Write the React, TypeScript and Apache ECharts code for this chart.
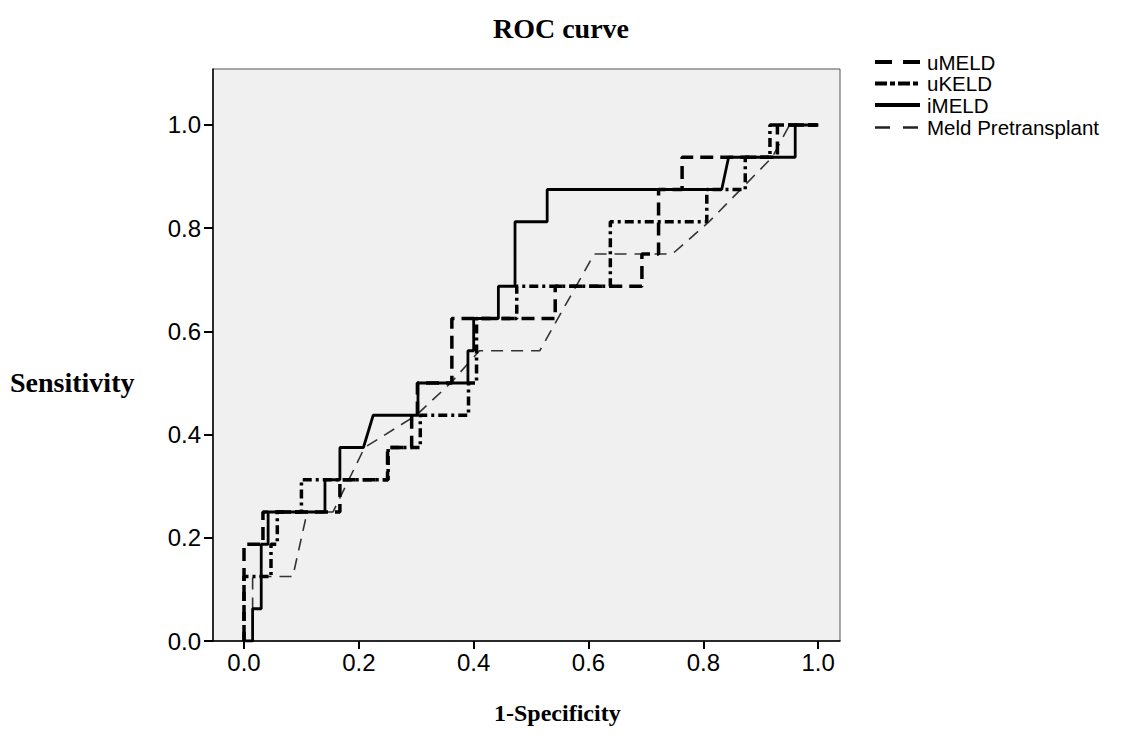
import React, { useEffect, useRef } from "react";
import * as echarts from "echarts";

// ---- Data (1 - specificity, sensitivity) ----
const tickValues = [0, 0.2, 0.4, 0.6, 0.8, 1.0];
const seriesNames = ["uMELD", "uKELD", "iMELD", "Meld Pretransplant"];

const uMELD_fpr = [0, 0, 0.033, 0.033, 0.167, 0.167, 0.25, 0.25, 0.292, 0.292, 0.302, 0.302, 0.362, 0.362, 0.542, 0.542, 0.693, 0.693, 0.722, 0.722, 0.763, 0.763, 0.929, 0.929, 1];
const uMELD_tpr = [0, 0.1875, 0.1875, 0.25, 0.25, 0.3125, 0.3125, 0.375, 0.375, 0.4375, 0.4375, 0.5, 0.5, 0.625, 0.625, 0.6875, 0.6875, 0.75, 0.75, 0.875, 0.875, 0.9375, 0.9375, 1, 1];

const uKELD_fpr = [0, 0, 0.047, 0.047, 0.058, 0.058, 0.1, 0.1, 0.251, 0.251, 0.307, 0.307, 0.391, 0.391, 0.405, 0.405, 0.475, 0.475, 0.638, 0.638, 0.806, 0.806, 0.873, 0.873, 0.916, 0.916, 1];
const uKELD_tpr = [0, 0.125, 0.125, 0.1875, 0.1875, 0.25, 0.25, 0.3125, 0.3125, 0.375, 0.375, 0.4375, 0.4375, 0.5, 0.5, 0.625, 0.625, 0.6875, 0.6875, 0.8125, 0.8125, 0.875, 0.875, 0.9375, 0.9375, 1, 1];

const iMELD_fpr = [0, 0.015, 0.015, 0.03, 0.03, 0.042, 0.042, 0.141, 0.141, 0.167, 0.167, 0.208, 0.225, 0.303, 0.303, 0.39, 0.39, 0.4, 0.4, 0.443, 0.443, 0.472, 0.472, 0.528, 0.528, 0.832, 0.844, 0.96, 0.96, 1];
const iMELD_tpr = [0, 0, 0.0625, 0.0625, 0.1875, 0.1875, 0.25, 0.25, 0.3125, 0.3125, 0.375, 0.375, 0.4375, 0.4375, 0.5, 0.5, 0.5625, 0.5625, 0.625, 0.625, 0.6875, 0.6875, 0.8125, 0.8125, 0.875, 0.875, 0.9375, 0.9375, 1, 1];

const meld_fpr = [0, 0, 0.015, 0.015, 0.085, 0.11, 0.155, 0.21, 0.3, 0.36, 0.41, 0.515, 0.61, 0.746, 0.81, 0.92, 0.95, 1];
const meld_tpr = [0, 0.0625, 0.0625, 0.125, 0.125, 0.25, 0.25, 0.375, 0.4375, 0.5, 0.5625, 0.5625, 0.75, 0.75, 0.8125, 0.9375, 1, 1];

const pairs = (xs: number[], ys: number[]) => xs.map((x, i) => [x, ys[i]]);

export default function App() {
  const ref = useRef<HTMLDivElement>(null);
  useEffect(() => {
    if (!ref.current) return;
    const chart = echarts.init(ref.current, null, { renderer: "svg" });
    const sans = "Liberation Sans, Arial, sans-serif";
    const serif = "Liberation Serif, Times New Roman, serif";

    const plotStyles = [
      { color: "#000", width: 3.5, dash: [13, 7] as number[] | null },
      { color: "#000", width: 3.5, dash: [9, 4, 3, 4] as number[] | null },
      { color: "#000", width: 2.8, dash: null as number[] | null },
      { color: "#333", width: 1.6, dash: [12, 8] as number[] | null },
    ];
    const legendStyles = [
      { color: "#000", width: 4, dash: [17, 11] as number[] | null },
      { color: "#000", width: 4, dash: [12, 3, 5, 3] as number[] | null },
      { color: "#000", width: 4, dash: null as number[] | null },
      { color: "#222", width: 2.5, dash: [15, 13] as number[] | null },
    ];
    const legendRows = [62, 83.5, 105, 127.5];
    const legendGraphics: any[] = [];
    seriesNames.forEach((name, i) => {
      const st = legendStyles[i];
      legendGraphics.push({
        type: "line",
        shape: { x1: 875, y1: legendRows[i], x2: 920, y2: legendRows[i] },
        style: { stroke: st.color, lineWidth: st.width, lineDash: st.dash || undefined },
      });
      legendGraphics.push({
        type: "text",
        x: 927,
        y: legendRows[i],
        style: {
          text: name,
          fontFamily: sans,
          fontSize: 20.5,
          fill: "#000",
          textVerticalAlign: "middle",
          verticalAlign: "middle",
        },
      });
    });

    const seriesData = [
      pairs(uMELD_fpr, uMELD_tpr),
      pairs(uKELD_fpr, uKELD_tpr),
      pairs(iMELD_fpr, iMELD_tpr),
      pairs(meld_fpr, meld_tpr),
    ];
    const zs = [3, 4, 5, 2];

    chart.setOption({
      animation: false,
      backgroundColor: "#ffffff",
      title: {
        text: "ROC curve",
        left: 556,
        top: 9,
        textAlign: "center",
        textStyle: { fontFamily: serif, fontWeight: "bold", fontSize: 28, color: "#000" },
      },
      grid: {
        left: 213,
        right: 282,
        top: 69,
        bottom: 111,
        show: true,
        backgroundColor: "#f0f0f0",
        borderColor: "#555",
        borderWidth: 1,
      },
      xAxis: {
        type: "value",
        min: -0.054,
        max: 1.038,
        axisLine: { show: true, onZero: false, lineStyle: { color: "#000", width: 1.5 } },
        axisTick: { show: true, customValues: tickValues, length: 8, lineStyle: { color: "#000", width: 2 } },
        axisLabel: {
          customValues: tickValues,
          formatter: (v: number) => v.toFixed(1),
          fontFamily: sans,
          fontSize: 24,
          color: "#000",
          margin: 9,
        },
        splitLine: { show: false },
      },
      yAxis: {
        type: "value",
        min: 0,
        max: 1.1085,
        axisLine: { show: true, onZero: false, lineStyle: { color: "#000", width: 1.5 } },
        axisTick: { show: true, customValues: tickValues, length: 9, lineStyle: { color: "#000", width: 2 } },
        axisLabel: {
          customValues: tickValues,
          formatter: (v: number) => v.toFixed(1),
          fontFamily: sans,
          fontSize: 24,
          color: "#000",
          margin: 12,
        },
        splitLine: { show: false },
      },
      graphic: [
        {
          type: "text",
          left: 10,
          top: 368,
          style: { text: "Sensitivity", fontFamily: serif, fontWeight: "bold", fontSize: 28, fill: "#000" },
        },
        {
          type: "text",
          left: 494,
          top: 701,
          style: { text: "1-Specificity", fontFamily: serif, fontWeight: "bold", fontSize: 24, fill: "#000" },
        },
        ...legendGraphics,
      ],
      series: seriesNames.map((name, i) => ({
        name,
        type: "line",
        data: seriesData[i],
        symbol: "none",
        z: zs[i],
        itemStyle: { color: plotStyles[i].color },
        lineStyle: {
          color: plotStyles[i].color,
          width: plotStyles[i].width,
          type: plotStyles[i].dash || "solid",
        },
      })),
    });
    return () => chart.dispose();
  }, []);
  return (
    <div
      ref={ref}
      style={{ position: "fixed", left: 0, top: 0, width: 1122, height: 752, background: "#fff" }}
    />
  );
}
